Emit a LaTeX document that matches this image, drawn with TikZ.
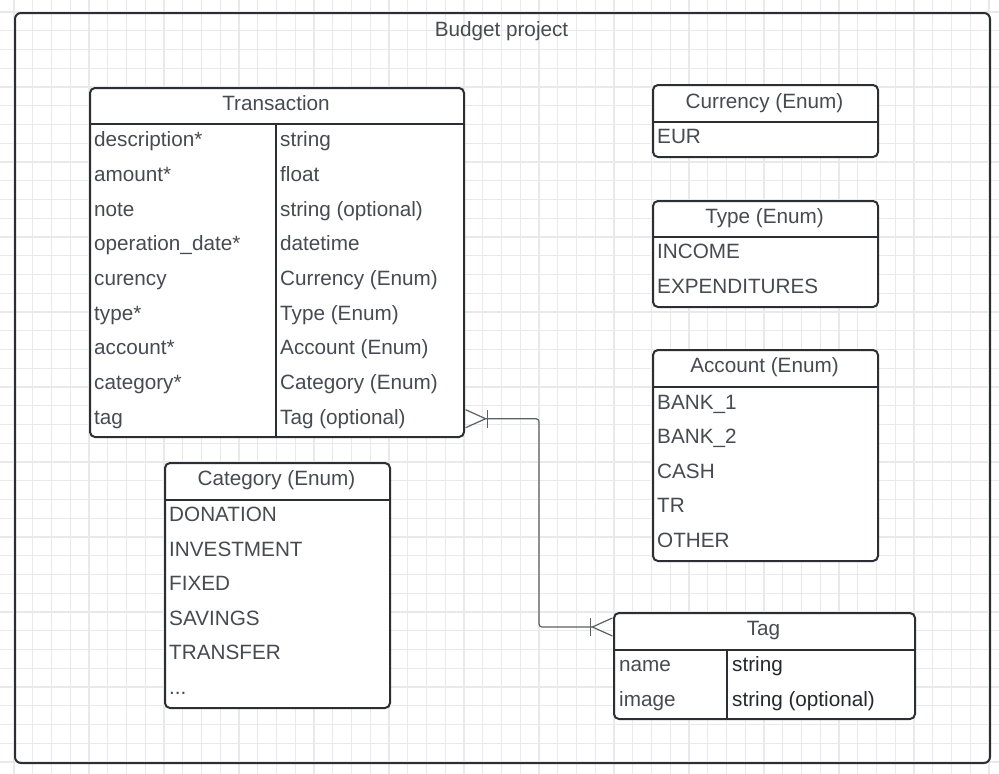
\documentclass[tikz,border=0pt]{standalone}
\usepackage{fontspec}
\setmainfont{Liberation Sans}
\usetikzlibrary{
    arrows.meta,
    calc
}
\definecolor{edge}{HTML}{2B2E33}
\definecolor{txt}{HTML}{464A51}
\definecolor{txtdark}{HTML}{26282C}
\definecolor{link}{HTML}{5C6066}
\definecolor{gridgray}{HTML}{E9E9E9}

\tikzset{
    frame/.style={draw=edge, line width=2pt, rounded corners=6pt, anchor=north west, inner sep=0pt},
    box/.style={draw=edge, line width=2pt, rounded corners=5pt, fill=white, anchor=north west, inner sep=0pt},
    rule/.style={draw=edge, line width=2pt},
    colrule/.style={draw=edge, line width=1.5pt},
    head/.style={text=txt, anchor=base, inner sep=0pt},
    cell/.style={text=txt, anchor=base west, inner sep=0pt},
    rel/.style={draw=link, line width=1.2pt, rounded corners=3pt,
        {Straight Barb[reversed,length=20pt,width=18pt,sep=0pt] Bar[width=18pt]}-{Bar[width=18pt,sep=0pt] Straight Barb[reversed,length=20pt,width=18pt]}}
}

\begin{document}
\begin{tikzpicture}[x=1pt, y=-1pt, font=\fontsize{20.7}{24}\selectfont]
    \useasboundingbox (0,0) rectangle (999,774);

    % grid
    \begin{scope}
        \clip (0,0) rectangle (999,774);
        \foreach \i in {0,...,54} \draw[gridgray, line width=1.1pt] ({-4.75+\i*18.75},0) -- ({-4.75+\i*18.75},774);
        \foreach \i in {0,...,42} \draw[gridgray, line width=1.1pt] (0,{-6.75+\i*18.75}) -- (999,{-6.75+\i*18.75});
    \end{scope}

    \node[frame, minimum width=975, minimum height=750] (project) at (14,12) {};
    \node[head] (projecttitle) at (501.5,36) {Budget project};

    % Transaction
    \node[box, minimum width=374, minimum height=349] (trans) at (89,87) {};
    \node[head] (transtitle) at (276,110) {Transaction};
    \draw[rule] (89,124) -- (463,124);
    \draw[colrule] (276,124) -- (276,436);
    \foreach \f/\t [count=\i from 0] in {description*/string, amount*/float, note/string (optional),
        operation\_date*/datetime, curency/Currency (Enum), type*/Type (Enum),
        account*/Account (Enum), category*/Category (Enum), tag/Tag (optional)} {
        \node[cell] (transf\i) at (94,{146.7+\i*34.67}) {\f};
        \node[cell] (transt\i) at (280,{146.7+\i*34.67}) {\t};
    }

    % Category
    \node[box, minimum width=225, minimum height=245] (cat) at (164,462) {};
    \node[head] (cattitle) at (276.5,485) {Category (Enum)};
    \draw[rule] (164,500) -- (389,500);
    \foreach \v [count=\i from 0] in {DONATION, INVESTMENT, FIXED, SAVINGS, TRANSFER}
        \node[cell] (cat\i) at (169,{521.5+\i*34.5}) {\v};
    \node[cell] (cat5) at (169,694) {...};

    % Currency
    \node[box, minimum width=225, minimum height=72] (cur) at (652,84) {};
    \node[head] (curtitle) at (764.5,108.3) {Currency (Enum)};
    \draw[rule] (652,122) -- (877,122);
    \node[cell] (cur0) at (657,143.3) {EUR};

    % Type
    \node[box, minimum width=225, minimum height=106] (type) at (652,200) {};
    \node[head] (typetitle) at (764.5,223) {Type (Enum)};
    \draw[rule] (652,237) -- (877,237);
    \foreach \v [count=\i from 0] in {INCOME, EXPENDITURES}
        \node[cell] (type\i) at (657,{258.3+\i*35}) {\v};

    % Account
    \node[box, minimum width=225, minimum height=211] (acc) at (652,349) {};
    \node[head] (acctitle) at (764.5,372) {Account (Enum)};
    \draw[rule] (652,387) -- (877,387);
    \foreach \v [count=\i from 0] in {BANK\_1, BANK\_2, CASH, TR, OTHER}
        \node[cell] (acc\i) at (657,{409+\i*34.6}) {\v};

    % Tag
    \node[box, minimum width=301, minimum height=106] (tag) at (613,612) {};
    \node[head] (tagtitle) at (763.5,635) {Tag};
    \draw[rule] (613,650) -- (914,650);
    \draw[colrule] (727,650) -- (727,718);
    \foreach \f/\t [count=\i from 0] in {name/string, image/string (optional)} {
        \node[cell] (tagf\i) at (619,{671.7+\i*35}) {\f};
        \node[cell, text=txtdark] (tagt\i) at (732,{671.7+\i*35}) {\t};
    }

    % relation
    \coordinate (tagin) at ([yshift=-15pt]tag.north west);
    \draw[rel] (trans.east |- transt8) -| ($(trans.east |- transt8)!.5!(tagin)$) |- (tagin);
\end{tikzpicture}
\end{document}
